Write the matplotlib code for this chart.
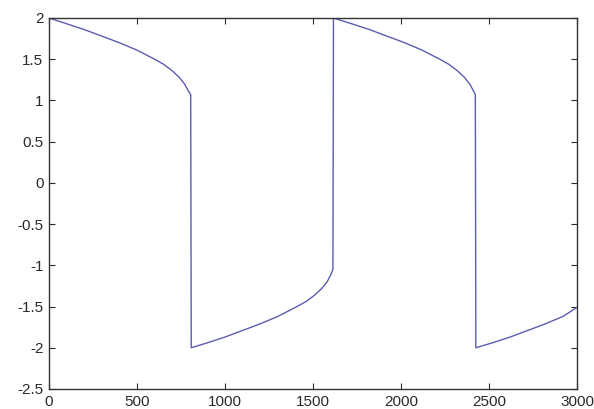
import matplotlib
matplotlib.use("Agg")
import matplotlib.pyplot as plt

# values (relaxation oscillation)
t_vals = [0, 100, 200, 300, 400, 500, 600, 650, 700, 740, 770, 790, 805,
          808, 900, 1000, 1100, 1200, 1300, 1400, 1460, 1510, 1550, 1580, 1600, 1613,
          1616, 1720, 1820, 1920, 2020, 2120, 2220, 2270, 2320, 2360, 2390, 2410, 2422,
          2425, 2520, 2620, 2720, 2820, 2920, 3000]
y_vals = [2.0, 1.93, 1.86, 1.78, 1.70, 1.61, 1.50, 1.44, 1.36, 1.28, 1.20, 1.12, 1.07,
          -2.0, -1.94, -1.87, -1.79, -1.71, -1.62, -1.51, -1.44, -1.36, -1.28, -1.20, -1.12, -1.05,
          2.0, 1.93, 1.86, 1.78, 1.70, 1.61, 1.50, 1.44, 1.36, 1.28, 1.20, 1.12, 1.07,
          -2.0, -1.94, -1.87, -1.79, -1.71, -1.62, -1.51]

x_ticks = [0, 500, 1000, 1500, 2000, 2500, 3000]
y_ticks = [-2.5, -2, -1.5, -1, -0.5, 0, 0.5, 1, 1.5, 2]
y_labels = ['-2.5', '-2', '-1.5', '-1', '-0.5', '0', '0.5', '1', '1.5', '2']

plt.rcParams['font.family'] = ['Liberation Sans', 'DejaVu Sans']

fig = plt.figure(figsize=(5.94, 4.09), dpi=100)
ax = fig.add_axes([0.0825, 0.049, 0.889, 0.907])
ax.plot(t_vals, y_vals, color='#5c5cb0', linewidth=1.0)

ax.set_xlim(0, 3000)
ax.set_ylim(-2.5, 2)
ax.set_xticks(x_ticks)
ax.set_xticklabels([str(v) for v in x_ticks])
ax.set_yticks(y_ticks)
ax.set_yticklabels(y_labels)
ax.tick_params(direction='in', top=True, right=True, length=4, width=0.8,
               labelsize=11, colors='#2a2a2a', pad=4)
for s in ax.spines.values():
    s.set_linewidth(1.0)
    s.set_color('#333333')

fig.savefig('out.png', dpi=100)
